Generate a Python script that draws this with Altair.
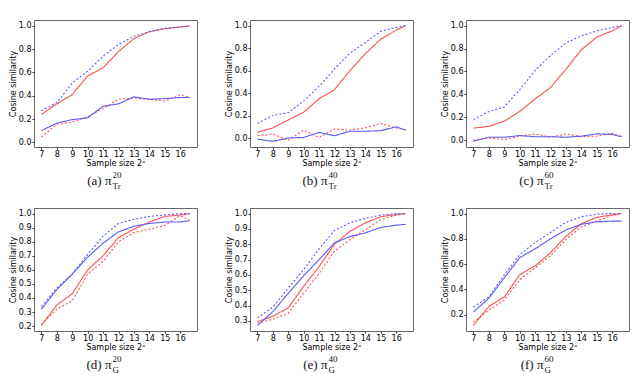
import altair as alt
import pandas as pd

X = [7, 8, 9, 10, 11, 12, 13, 14, 15, 16, 16.61]
SERIES = ["red_solid", "red_dotted", "blue_solid", "blue_dotted"]
RED = "#ff5050"
BLUE = "#5a5aff"

# (a) pi_Tr^20
a_red_solid = [0.24, 0.33, 0.41, 0.57, 0.64, 0.78, 0.89, 0.95, 0.975, 0.99, 1.0]
a_red_dotted = [0.045, 0.155, 0.175, 0.22, 0.29, 0.37, 0.38, 0.37, 0.355, 0.405, 0.39]
a_blue_solid = [0.10, 0.165, 0.195, 0.21, 0.31, 0.33, 0.39, 0.37, 0.375, 0.385, 0.385]
a_blue_dotted = [0.27, 0.34, 0.51, 0.61, 0.74, 0.84, 0.91, 0.95, 0.98, 0.99, 1.0]
# (b) pi_Tr^40
b_red_solid = [0.05, 0.09, 0.16, 0.23, 0.35, 0.43, 0.60, 0.75, 0.88, 0.96, 1.0]
b_red_dotted = [0.02, 0.035, -0.02, 0.07, 0.005, 0.08, 0.07, 0.09, 0.13, 0.09, 0.075]
b_blue_solid = [-0.01, -0.03, 0.0, 0.005, 0.05, 0.02, 0.06, 0.06, 0.065, 0.10, 0.07]
b_blue_dotted = [0.13, 0.20, 0.225, 0.33, 0.46, 0.615, 0.755, 0.85, 0.95, 0.985, 1.0]
# (c) pi_Tr^60
c_red_solid = [0.105, 0.12, 0.165, 0.25, 0.36, 0.46, 0.62, 0.79, 0.90, 0.955, 1.0]
c_red_dotted = [0.0, 0.02, 0.005, 0.035, 0.055, 0.025, 0.055, 0.03, 0.035, 0.06, 0.03]
c_blue_solid = [-0.01, 0.025, 0.025, 0.04, 0.03, 0.03, 0.025, 0.035, 0.055, 0.05, 0.03]
c_blue_dotted = [0.18, 0.25, 0.29, 0.44, 0.61, 0.74, 0.85, 0.91, 0.955, 0.985, 1.0]
# (d) pi_G^20
d_red_solid = [0.205, 0.35, 0.43, 0.60, 0.70, 0.83, 0.89, 0.94, 0.98, 0.99, 1.0]
d_red_dotted = [0.21, 0.32, 0.38, 0.57, 0.66, 0.80, 0.865, 0.89, 0.915, 0.985, 0.955]
d_blue_solid = [0.32, 0.46, 0.57, 0.69, 0.79, 0.87, 0.91, 0.93, 0.94, 0.94, 0.95]
d_blue_dotted = [0.34, 0.47, 0.57, 0.71, 0.84, 0.93, 0.96, 0.98, 0.99, 1.0, 1.0]
# (e) pi_G^40
e_red_solid = [0.295, 0.33, 0.385, 0.525, 0.655, 0.80, 0.885, 0.94, 0.98, 0.995, 1.0]
e_red_dotted = [0.285, 0.31, 0.35, 0.48, 0.61, 0.755, 0.83, 0.895, 0.96, 0.99, 1.0]
e_blue_solid = [0.27, 0.36, 0.48, 0.595, 0.70, 0.81, 0.85, 0.875, 0.91, 0.925, 0.93]
e_blue_dotted = [0.32, 0.39, 0.515, 0.635, 0.77, 0.89, 0.94, 0.97, 0.99, 1.0, 1.0]
# (f) pi_G^60
f_red_solid = [0.115, 0.265, 0.34, 0.515, 0.585, 0.69, 0.82, 0.92, 0.97, 0.99, 1.0]
f_red_dotted = [0.14, 0.235, 0.315, 0.475, 0.57, 0.665, 0.795, 0.895, 0.94, 0.985, 1.0]
f_blue_solid = [0.22, 0.33, 0.49, 0.65, 0.72, 0.80, 0.87, 0.915, 0.935, 0.94, 0.94]
f_blue_dotted = [0.26, 0.34, 0.515, 0.675, 0.77, 0.85, 0.93, 0.975, 0.995, 1.0, 1.0]

X_TICKS = [7, 8, 9, 10, 11, 12, 13, 14, 15, 16]
W = 163


def panel(series, letter, sup, sub, ydom, yticks, h):
    rows = []
    for name, vals in zip(SERIES, series):
        for x, y in zip(X, vals):
            rows.append({"x": x, "y": y, "s": name})
    df = pd.DataFrame(rows)
    lines = alt.Chart(df).mark_line(strokeWidth=1.1, clip=True).encode(
        x=alt.X("x:Q", scale=alt.Scale(domain=[6.52, 17.09], nice=False, zero=False),
                axis=alt.Axis(values=X_TICKS, format="d", title="Sample size 2ˣ")),
        y=alt.Y("y:Q", scale=alt.Scale(domain=ydom, nice=False, zero=False),
                axis=alt.Axis(values=yticks, format=".1f", title="Cosine similarity")),
        color=alt.Color("s:N", scale=alt.Scale(domain=SERIES, range=[RED, RED, BLUE, BLUE]), legend=None),
        strokeDash=alt.StrokeDash("s:N", scale=alt.Scale(domain=SERIES, range=[[1, 0], [2, 2], [1, 0], [2, 2]]), legend=None),
        order=alt.Order("x:Q"),
    )
    cx = W / 2 - 6
    main = alt.Chart(pd.DataFrame({"t": [f"({letter}) π"]})).mark_text(
        font="Liberation Serif", fontSize=13, align="right", baseline="middle", color="#111"
    ).encode(text="t:N", x=alt.value(cx + 2), y=alt.value(h + 34))
    sup_t = alt.Chart(pd.DataFrame({"t": [sup]})).mark_text(
        font="Liberation Serif", fontSize=9, align="left", baseline="middle", color="#111"
    ).encode(text="t:N", x=alt.value(cx + 3), y=alt.value(h + 28))
    sub_t = alt.Chart(pd.DataFrame({"t": [sub]})).mark_text(
        font="Liberation Serif", fontSize=9, align="left", baseline="middle", color="#111"
    ).encode(text="t:N", x=alt.value(cx + 3), y=alt.value(h + 39))
    return alt.layer(lines, main, sup_t, sub_t).properties(width=W, height=h)


H1, H2 = 127, 123
T02 = [0.0, 0.2, 0.4, 0.6, 0.8, 1.0]
pa = panel([a_red_solid, a_red_dotted, a_blue_solid, a_blue_dotted], "a", "20", "Tr", [-0.04, 1.05], T02, H1)
pb = panel([b_red_solid, b_red_dotted, b_blue_solid, b_blue_dotted], "b", "40", "Tr", [-0.08, 1.05], T02, H1)
pc = panel([c_red_solid, c_red_dotted, c_blue_solid, c_blue_dotted], "c", "60", "Tr", [-0.06, 1.05], T02, H1)
pd_ = panel([d_red_solid, d_red_dotted, d_blue_solid, d_blue_dotted], "d", "20", "G", [0.165, 1.04],
            [0.2, 0.3, 0.4, 0.5, 0.6, 0.7, 0.8, 0.9, 1.0], H2)
pe = panel([e_red_solid, e_red_dotted, e_blue_solid, e_blue_dotted], "e", "40", "G", [0.234, 1.037],
           [0.3, 0.4, 0.5, 0.6, 0.7, 0.8, 0.9, 1.0], H2)
pf = panel([f_red_solid, f_red_dotted, f_blue_solid, f_blue_dotted], "f", "60", "G", [0.07, 1.044],
           [0.2, 0.4, 0.6, 0.8, 1.0], H2)

chart = alt.vconcat(
    alt.hconcat(pa, pb, pc, spacing=26),
    alt.hconcat(pd_, pe, pf, spacing=26),
    spacing=15,
).properties(
    padding={"left": 0, "top": 11, "right": 0, "bottom": 0}
).configure_view(
    stroke="#666", strokeWidth=1
).configure_axis(
    domain=False, grid=False, tickSize=2, tickColor="#333",
    labelFont="DejaVu Sans", labelFontSize=8, labelColor="#000", labelPadding=1,
    titleFont="DejaVu Sans", titleFontSize=8, titleFontWeight="normal", titleColor="#000",
    titlePadding=1,
)

chart.save("out.html", embed_options={"renderer": "svg", "actions": False})
